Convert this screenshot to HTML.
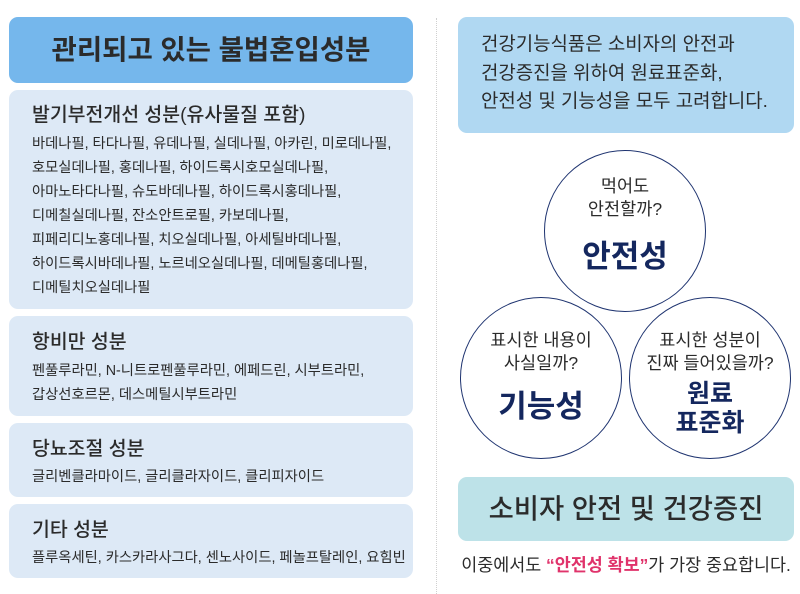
<!DOCTYPE html>
<html><head><meta charset="utf-8"><style>
*{margin:0;padding:0;box-sizing:border-box}
body{width:800px;height:594px;background:#fff;position:relative;overflow:hidden;font-family:"Liberation Sans","Noto Sans CJK KR",sans-serif;color:#2b2b2b}
.a{position:absolute}
.box{position:absolute;border-radius:9px}
.lb{left:9px;width:404px;background:#dde9f6}
.h{position:absolute;left:23px;font-size:19.4px;font-weight:500;white-space:nowrap}
.t{position:absolute;left:23px;font-size:14.3px;line-height:24px;white-space:nowrap}
.c{position:absolute;width:162px;height:162px;border:1.5px solid #1f3470;border-radius:50%;text-align:center;background:#fff}
.q{position:absolute;left:-10px;width:180px;font-size:17.5px;line-height:23px}
.b{position:absolute;left:0;width:100%;font-size:31px;font-weight:bold;color:#14275e;line-height:36px}
</style></head><body>
<div class="box" style="left:9px;top:17px;width:404px;height:66px;background:#75b7ec"></div>
<div class="a" style="left:9px;top:17px;width:404px;height:66px;line-height:66px;text-align:center;font-size:27.5px;font-weight:bold;color:#2b2b2b">관리되고 있는 불법혼입성분</div>

<div class="box lb" style="top:90px;height:219px">
<div class="h" style="top:8px">발기부전개선 성분(유사물질 포함)</div>
<div class="t" style="top:42px">바데나필, 타다나필, 유데나필, 실데나필, 아카린, 미로데나필,<br>호모실데나필, 홍데나필, 하이드록시호모실데나필,<br>아마노타다나필, 슈도바데나필, 하이드록시홍데나필,<br>디메칠실데나필, 잔소안트로필, 카보데나필,<br>피페리디노홍데나필, 치오실데나필, 아세틸바데나필,<br>하이드록시바데나필, 노르네오실데나필, 데메틸홍데나필,<br>디메틸치오실데나필</div>
</div>
<div class="box lb" style="top:316px;height:100px">
<div class="h" style="top:9px">항비만 성분</div>
<div class="t" style="top:43px">펜풀루라민, N-니트로펜풀루라민, 에페드린, 시부트라민,<br>갑상선호르몬, 데스메틸시부트라민</div>
</div>
<div class="box lb" style="top:423px;height:74px">
<div class="h" style="top:9px">당뇨조절 성분</div>
<div class="t" style="top:42px">글리벤클라마이드, 글리클라자이드, 클리피자이드</div>
</div>
<div class="box lb" style="top:504px;height:74px">
<div class="h" style="top:9px">기타 성분</div>
<div class="t" style="top:42px">플루옥세틴, 카스카라사그다, 센노사이드, 페놀프탈레인, 요힘빈</div>
</div>

<div class="a" style="left:436px;top:18px;height:576px;border-left:1px dotted #d0d0d0"></div>

<div class="box" style="left:458px;top:17px;width:336px;height:116px;background:#b0d8f2"></div>
<div class="a" style="left:481px;top:31px;font-size:18.9px;line-height:28.5px;white-space:nowrap">건강기능식품은 소비자의 안전과<br>건강증진을 위하여 원료표준화,<br>안전성 및 기능성을 모두 고려합니다.</div>

<div class="c" style="left:544px;top:150px"><div class="q" style="top:24px">먹어도<br>안전할까?</div><div class="b" style="top:88px">안전성</div></div>
<div class="c" style="left:460px;top:297px"><div class="q" style="top:31px">표시한 내용이<br>사실일까?</div><div class="b" style="top:91px">기능성</div></div>
<div class="c" style="left:629px;top:297px"><div class="q" style="top:31px">표시한 성분이<br>진짜 들어있을까?</div><div class="b" style="top:82px;font-size:25px;line-height:29px">원료<br>표준화</div></div>

<div class="box" style="left:458px;top:477px;width:336px;height:64px;background:#bde2e8"></div>
<div class="a" style="left:458px;top:477px;width:336px;height:64px;line-height:64px;text-align:center;font-size:27.4px;font-weight:500">소비자 안전 및 건강증진</div>
<div class="a" style="left:426px;top:553px;width:400px;text-align:center;font-size:17.4px;line-height:24px;white-space:nowrap">이중에서도 <b style="color:#e0336b">“안전성 확보”</b>가 가장 중요합니다.</div>
</body></html>
